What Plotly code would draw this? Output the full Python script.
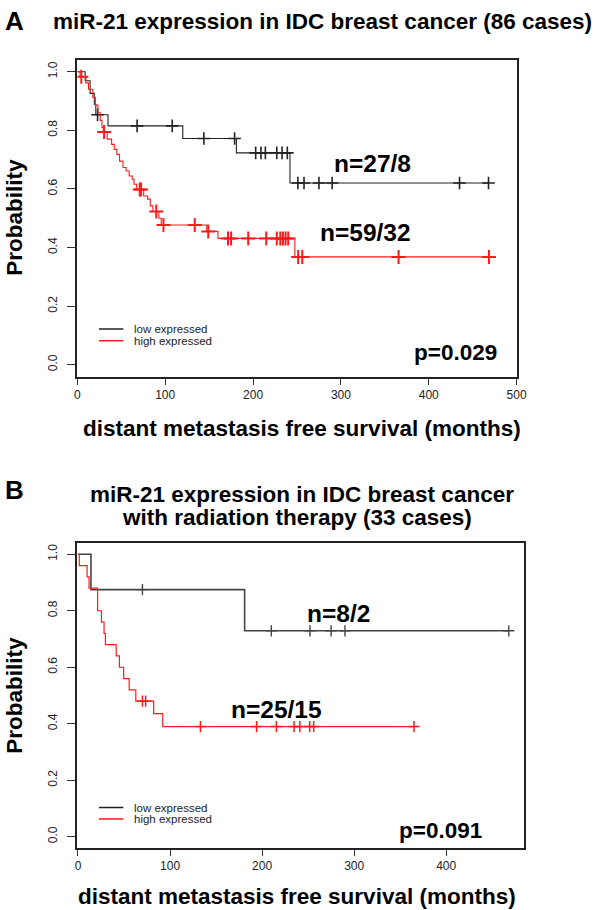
import numpy as np
import plotly.graph_objects as go

# ---------------- data ----------------
# Panel A: 86 IDC cases
A_low_time = [0, 8.9, 14.5, 19.3, 21.0, 34.9, 120, 181, 242, 468]
A_low_surv = [1.0, 0.969, 0.926, 0.889, 0.853, 0.815, 0.772, 0.723, 0.620, 0.620]
A_low_cens = [23, 68, 108, 144, 179, 203, 209, 214, 227, 233, 239, 251, 258, 275, 290, 435, 468]

A_high_time = [0, 3, 9.7, 12.6, 17.5, 20.5, 23.5, 26, 28, 29.5, 34, 39, 42, 45, 48, 52, 55.5,
               59, 62.5, 64.5, 67.5, 75.5, 80, 83, 86, 92.8, 95.5, 147.3, 160, 247.6, 468.5]
A_high_surv = [1.0, 0.983, 0.962, 0.940, 0.913, 0.886, 0.860, 0.834, 0.810, 0.794, 0.770, 0.752,
               0.735, 0.718, 0.695, 0.673, 0.661, 0.644, 0.633, 0.616, 0.598, 0.576, 0.565, 0.542,
               0.523, 0.500, 0.477, 0.455, 0.431, 0.368, 0.368]
A_high_cens = [4.5, 30.4, 71, 72.5, 89.8, 98, 133.6, 149, 171.5, 175, 194.5, 215, 227, 231, 234,
               237, 240, 251.3, 256, 365.6, 468.5]

# Panel B: 33 cases with radiation therapy
B_low_time = [0, 14.1, 181, 468]
B_low_surv = [1.0, 0.875, 0.729, 0.729]
B_low_cens = [70, 210, 252, 275, 290, 468]

B_high_time = [0, 1.4, 9.9, 12, 21.3, 25.5, 28.3, 29.8, 41.5, 45, 49.6, 55.6, 62.8, 82.2, 92.1, 365]
B_high_surv = [1.0, 0.96, 0.92, 0.88, 0.80, 0.76, 0.72, 0.68, 0.64, 0.60, 0.56, 0.52, 0.48,
               0.436, 0.390, 0.390]
B_high_cens = [70, 73.5, 133, 194, 215.5, 234.7, 241, 251.7, 256, 365]

y_ticks = [0.0, 0.2, 0.4, 0.6, 0.8, 1.0]
A_x_ticks = [0, 100, 200, 300, 400, 500]
B_x_ticks = [0, 100, 200, 300, 400]


def surv_at(times, surv, t):
    idx = np.searchsorted(np.array(times), np.array(t), side="right") - 1
    return [surv[i] for i in idx]


FONT = "Liberation Sans, Arial, sans-serif"
W, H = 600, 910

fig = go.Figure()


def add_group(times, surv, cens, color, lw, msize, mlw, xa, ya):
    fig.add_trace(go.Scatter(x=times, y=surv, mode="lines", line=dict(color=color, width=lw, shape="hv"),
                             xaxis=xa, yaxis=ya, showlegend=False, hoverinfo="skip"))
    fig.add_trace(go.Scatter(x=cens, y=surv_at(times, surv, cens), mode="markers",
                             marker=dict(symbol="cross-thin", size=msize, line=dict(color=color, width=mlw)),
                             xaxis=xa, yaxis=ya, showlegend=False, hoverinfo="skip"))


add_group(A_low_time, A_low_surv, A_low_cens, "#222222", 1.1, 9, 1.6, "x", "y")
add_group(A_high_time, A_high_surv, A_high_cens, "#ff1a1a", 1.1, 10, 2.0, "x", "y")
add_group(B_low_time, B_low_surv, B_low_cens, "#444444", 1.6, 8, 1.4, "x2", "y2")
add_group(B_high_time, B_high_surv, B_high_cens, "#ff1a1a", 1.2, 8, 1.5, "x2", "y2")


def px_x(p):
    return p / W


def px_y(p):
    return 1 - p / H


axis_common = dict(showgrid=False, zeroline=False, showline=True, mirror=True, linecolor="#222222",
                   linewidth=2, ticks="outside", tickcolor="#333333", tickwidth=1,
                   tickfont=dict(family=FONT, size=12, color="#222222"))

fig.update_layout(
    width=W, height=H, margin=dict(l=0, r=0, t=0, b=0),
    paper_bgcolor="white", plot_bgcolor="white",
    xaxis=dict(domain=[px_x(76), px_x(525)], range=[0, 500], tickvals=A_x_ticks, ticklen=6,
               anchor="y", **axis_common),
    yaxis=dict(domain=[px_y(377), px_y(60)], range=[-0.042, 1.04], tickvals=y_ticks, tickformat=".1f",
               tickangle=-90, ticklen=8, ticklabelstandoff=6, anchor="x", **axis_common),
    xaxis2=dict(domain=[px_x(76), px_x(533)], range=[-0.7, 485], tickvals=B_x_ticks, ticklen=6,
                anchor="y2", **axis_common),
    yaxis2=dict(domain=[px_y(848), px_y(542.7)], range=[-0.04, 1.041], tickvals=y_ticks, tickformat=".1f",
                tickangle=-90, ticklen=8, ticklabelstandoff=6, anchor="x2", **axis_common),
)


def ann(text, x, y, size, xanchor="center", yanchor="middle", angle=0, bold=True, color="black"):
    fig.add_annotation(text=f"<b>{text}</b>" if bold else text, x=px_x(x), y=px_y(y), xref="paper",
                       yref="paper", xanchor=xanchor, yanchor=yanchor, showarrow=False, textangle=angle,
                       font=dict(family=FONT, size=size, color=color), borderpad=0)


# Panel A texts
ann("A", 1, 21, 26, xanchor="left")
ann("miR-21 expression in IDC breast cancer (86 cases)", 327, 21, 22.5)
ann("Probability", 11, 217, 22.5, angle=-90)
ann("distant metastasis free survival (months)", 306, 428, 22.5)
ann("n=27/8", 378, 163, 24.5)
ann("n=59/32", 371, 233, 24.5)
ann("p=0.029", 463, 353, 22.5)

# Panel B texts
ann("B", 1, 490, 26, xanchor="left")
ann("miR-21 expression in IDC breast cancer", 306, 495, 22.5)
ann("with radiation therapy (33 cases)", 301, 517, 22.5)
ann("Probability", 11, 695, 22.5, angle=-90)
ann("distant metastasis free survival (months)", 301, 910, 22.5, yanchor="bottom")
ann("n=8/2", 343, 613, 24.5)
ann("n=25/15", 280, 709, 24.5)
ann("p=0.091", 447, 830, 22.5)

# Legends (drawn inside each panel)
for (ly1, ly2) in [(329, 340.7), (807.5, 819)]:
    fig.add_shape(type="line", xref="paper", yref="paper", x0=px_x(98), x1=px_x(123), y0=px_y(ly1),
                  y1=px_y(ly1), line=dict(color="#222222", width=1.5))
    fig.add_shape(type="line", xref="paper", yref="paper", x0=px_x(98), x1=px_x(123), y0=px_y(ly2),
                  y1=px_y(ly2), line=dict(color="#ff1a1a", width=1.5))
    ann("low expressed", 133, ly1, 11.5, xanchor="left", bold=False, color="#222222")
    ann("high expressed", 133, ly2, 11.5, xanchor="left", bold=False, color="#222222")

fig.write_html("out.html", post_script="document.body.style.margin='0';",
               config={"displayModeBar": False})
